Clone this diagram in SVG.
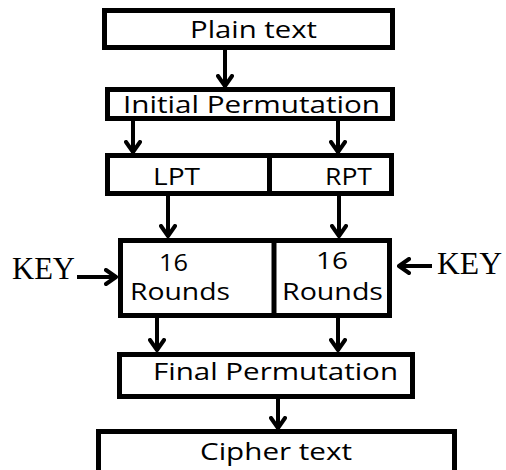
<svg xmlns="http://www.w3.org/2000/svg" width="506" height="470" viewBox="0 0 506 470">
<defs>
<style>
.box{fill:#fff;stroke:#000;stroke-width:5}
.div{stroke:#000;stroke-width:5}
.t{font-family:"Open Sans","Liberation Sans",sans-serif;font-size:24px;fill:#000}
.k{font-family:"Liberation Serif","Times New Roman",serif;font-size:31px;fill:#000}
.c{stroke:#000;stroke-width:4;fill:none}
</style>
<marker id="ah" viewBox="0 0 14 18" refX="13" refY="9" markerWidth="14" markerHeight="18" markerUnits="userSpaceOnUse" orient="auto">
<polyline points="2,2 12,9 2,16" fill="none" stroke="#000" stroke-width="4" stroke-linecap="round" stroke-linejoin="round"/>
</marker>
</defs>
<rect width="506" height="470" fill="#fff"/>
<g id="connectors">
<line class="c" x1="225" y1="50" x2="225" y2="87" marker-end="url(#ah)"/>
<line class="c" x1="133" y1="121" x2="133" y2="153" marker-end="url(#ah)"/>
<line class="c" x1="338" y1="121" x2="338" y2="153" marker-end="url(#ah)"/>
<line class="c" x1="168" y1="195" x2="168" y2="237" marker-end="url(#ah)"/>
<line class="c" x1="339" y1="195" x2="339" y2="237" marker-end="url(#ah)"/>
<line class="c" x1="77" y1="277" x2="117" y2="277" marker-end="url(#ah)"/>
<line class="c" x1="432" y1="266" x2="398" y2="266" marker-end="url(#ah)"/>
<line class="c" x1="157" y1="317" x2="157" y2="351" marker-end="url(#ah)"/>
<line class="c" x1="338" y1="317" x2="338" y2="351" marker-end="url(#ah)"/>
<line class="c" x1="278" y1="398" x2="278" y2="429" marker-end="url(#ah)"/>
</g>
<g id="plain">
<rect class="box" x="104.5" y="10.5" width="288" height="37"/>
<text class="t" x="190" y="38" textLength="127" lengthAdjust="spacingAndGlyphs">Plain text</text>
</g>
<g id="initial">
<rect class="box" x="107.5" y="89.5" width="285" height="29"/>
<text class="t" x="123" y="113" textLength="257" lengthAdjust="spacingAndGlyphs">Initial Permutation</text>
</g>
<g id="lpt-rpt">
<rect class="box" x="107.5" y="155.5" width="284" height="38"/>
<line class="div" x1="269.5" y1="155" x2="269.5" y2="194"/>
<text class="t" x="153" y="185" textLength="47" lengthAdjust="spacingAndGlyphs">LPT</text>
<text class="t" x="325" y="185" textLength="47" lengthAdjust="spacingAndGlyphs">RPT</text>
</g>
<g id="rounds">
<rect class="box" x="120.5" y="240.5" width="269" height="75"/>
<line class="div" x1="274" y1="240" x2="274" y2="316"/>
<text class="t" x="159" y="271" textLength="29" lengthAdjust="spacingAndGlyphs">16</text>
<text class="t" x="130" y="300" textLength="100" lengthAdjust="spacingAndGlyphs">Rounds</text>
<text class="t" x="316" y="269" textLength="32" lengthAdjust="spacingAndGlyphs">16</text>
<text class="t" x="282" y="300" textLength="101" lengthAdjust="spacingAndGlyphs">Rounds</text>
</g>
<g id="key-left">
<text class="k" x="12" y="279" textLength="63" lengthAdjust="spacingAndGlyphs">KEY</text>
</g>
<g id="key-right">
<text class="k" x="437" y="274" textLength="65" lengthAdjust="spacingAndGlyphs">KEY</text>
</g>
<g id="final">
<rect class="box" x="119.5" y="354.5" width="293" height="42"/>
<text class="t" x="153" y="380" textLength="245" lengthAdjust="spacingAndGlyphs">Final Permutation</text>
</g>
<g id="cipher">
<rect class="box" x="98.5" y="431.5" width="356" height="42"/>
<text class="t" x="200" y="460" textLength="152" lengthAdjust="spacingAndGlyphs">Cipher text</text>
</g>
</svg>
